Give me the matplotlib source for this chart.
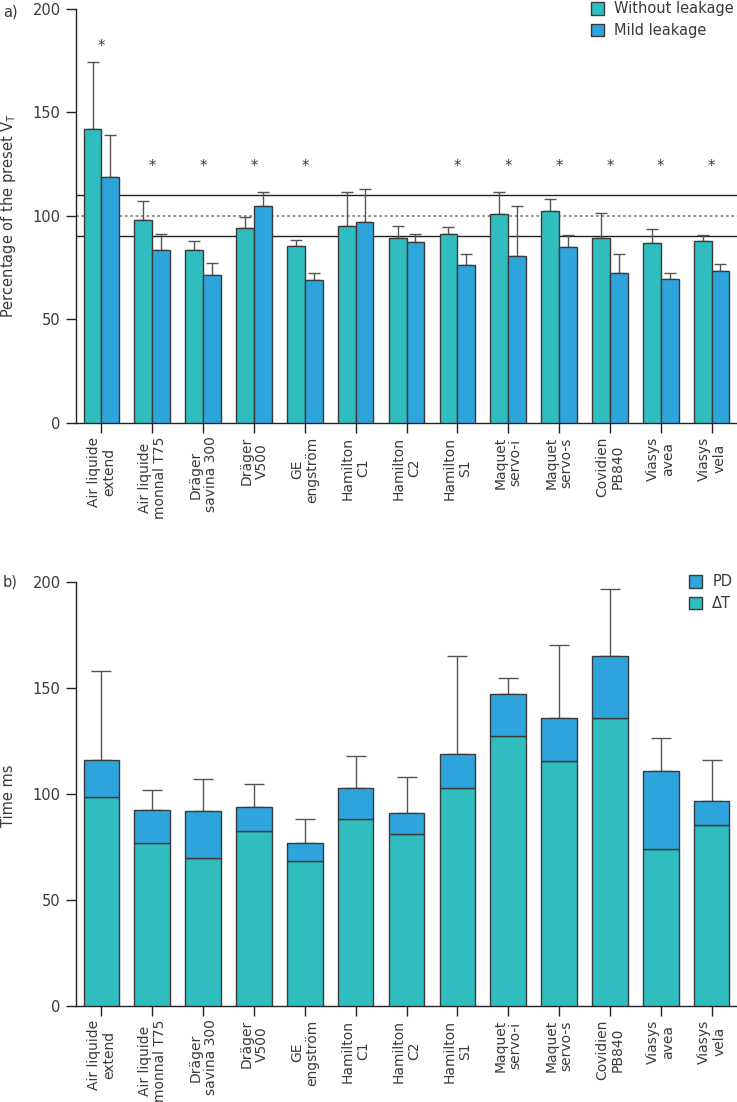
import matplotlib
matplotlib.use("Agg")
import matplotlib.pyplot as plt
import numpy as np

plt.rcParams['font.family'] = ['DejaVu Sans']

categories = ["Air liquide\nextend", "Air liquide\nmonnal T75", "Dräger\nsavina 300",
              "Dräger\nV500", "GE\nengström", "Hamilton\nC1", "Hamilton\nC2",
              "Hamilton\nS1", "Maquet\nservo-i", "Maquet\nservo-s", "Covidien\nPB840",
              "Viasys\navea", "Viasys\nvela"]

# Panel a: percentage of preset VT
without_leak = [142, 98, 83.3, 94, 85.4, 94.9, 89.1, 91, 101, 102.1, 89.2, 86.8, 87.6]
without_leak_err = [32.3, 9, 4.7, 5.5, 2.9, 16.7, 6.1, 3.7, 10.6, 5.8, 12.2, 6.9, 3.1]
mild_leak = [118.8, 83.3, 71.2, 104.7, 69, 96.8, 87.4, 76.3, 80.5, 84.9, 72.2, 69.3, 73.1]
mild_leak_err = [20.2, 8, 5.8, 6.9, 3.5, 16.2, 3.6, 5.3, 24.2, 5.8, 9.4, 3.2, 3.8]
star_groups = [0, 1, 2, 3, 4, 7, 8, 9, 10, 11, 12]
star_heights = [183, 125, 125, 125, 125, 125, 125, 125, 125, 125, 125]
ref_lines = [90, 110]
ref_dotted = 100

# Panel b: time (ms)
delta_t = [98.6, 76.9, 69.5, 82.4, 68.1, 87.9, 80.8, 102.8, 127.1, 115.3, 135.8, 73.8, 85.1]
total_time = [115.9, 92.5, 91.8, 93.6, 76.7, 102.5, 91, 118.9, 146.9, 135.7, 165, 110.6, 96.4]
total_err = [42, 9.1, 15.3, 11.1, 11.4, 15.4, 16.9, 46.2, 7.8, 34.6, 31.6, 15.7, 19.5]
pd_time = [t - d for t, d in zip(total_time, delta_t)]

teal = '#2fbdbf'
blue = '#2ea4dc'
edge = '#3a3a3a'
errc = '#555555'
txtc = '#3a3a3a'
fs = 10.5
fs_x = 10

fig = plt.figure(figsize=(7.37, 11.02), dpi=100)
W, H = 737, 1102

def style_axes(ax):
    ax.spines['top'].set_visible(False)
    ax.spines['right'].set_visible(False)
    for s in ['left', 'bottom']:
        ax.spines[s].set_color('#222222')
        ax.spines[s].set_linewidth(1.0)
    ax.tick_params(axis='both', direction='out', length=7, width=1, color='#222222',
                   labelsize=fs, labelcolor=txtc, pad=4)
    ax.tick_params(axis='x', pad=3)
    ax.set_xlim(-0.5, 12.5)
    ax.set_ylim(0, 200)
    ax.set_yticks([0, 50, 100, 150, 200])
    ax.set_xticks(np.arange(len(categories)))
    ax.set_xticklabels(categories, rotation=90, ha='center', va='top',
                       multialignment='center', fontsize=fs_x, color=txtc,
                       linespacing=1.1)

x = np.arange(len(categories))
bw = 0.35

# ---- Panel a ----
axa = fig.add_axes([76 / W, 1 - 422.7 / H, 661 / W, (422.7 - 8.7) / H])
style_axes(axa)
for yv in ref_lines:
    axa.axhline(yv, color='#222222', lw=1.0, zorder=1)
axa.axhline(ref_dotted, color='#888888', lw=1.3, ls=(0, (1.5, 1.5)), zorder=1)
axa.bar(x - bw / 2, without_leak, bw, color=teal, edgecolor=edge, lw=1, zorder=3,
        label='Without leakage')
axa.bar(x + bw / 2, mild_leak, bw, color=blue, edgecolor=edge, lw=1, zorder=3,
        label='Mild leakage')
axa.errorbar(x - bw / 2, without_leak, yerr=[np.zeros(len(x)), without_leak_err],
             fmt='none', ecolor=errc, elinewidth=1, capsize=4, capthick=1, zorder=2)
axa.errorbar(x + bw / 2, mild_leak, yerr=[np.zeros(len(x)), mild_leak_err],
             fmt='none', ecolor=errc, elinewidth=1, capsize=4, capthick=1, zorder=2)
for g, h in zip(star_groups, star_heights):
    axa.annotate('*', (g, h), xytext=(0, -5), textcoords='offset points',
                 ha='center', va='baseline', fontsize=fs, color=txtc)
fig.text(9 / W, 1 - 215.7 / H, r'Percentage of the preset V$_{\mathregular{T}}$',
         rotation=90, ha='center', va='center', fontsize=fs, color=txtc)
fig.text(3 / W, 1 - 12 / H, 'a)', ha='left', va='center', fontsize=fs, color=txtc)
axa.legend(loc='upper left', bbox_to_anchor=(590.7 / W, 1 - 1.5 / H),
           bbox_transform=fig.transFigure, frameon=False, fontsize=fs,
           handlelength=0.9, handleheight=0.9, handletextpad=0.7,
           labelspacing=0.45, borderpad=0, borderaxespad=0, labelcolor=txtc)

# ---- Panel b ----
axb = fig.add_axes([76 / W, 1 - 1005.7 / H, 661 / W, (1005.7 - 581.7) / H])
style_axes(axb)
b1 = axb.bar(x, delta_t, 2 * bw, color=teal, edgecolor=edge, lw=1, zorder=3, label='ΔT')
b2 = axb.bar(x, pd_time, 2 * bw, bottom=delta_t, color=blue, edgecolor=edge, lw=1,
             zorder=3, label='PD')
axb.errorbar(x, total_time, yerr=[np.zeros(len(x)), total_err], fmt='none',
             ecolor=errc, elinewidth=1, capsize=7, capthick=1, zorder=2)
fig.text(9 / W, 1 - 796 / H, 'Time ms', rotation=90, ha='center', va='center',
         fontsize=fs, color=txtc)
fig.text(3 / W, 1 - 581.7 / H, 'b)', ha='left', va='center', fontsize=fs, color=txtc)
axb.legend([b2, b1], ['PD', 'ΔT'], loc='upper left',
           bbox_to_anchor=(689 / W, 1 - 574.5 / H),
           bbox_transform=fig.transFigure, frameon=False, fontsize=fs,
           handlelength=0.9, handleheight=0.9, handletextpad=0.7,
           labelspacing=0.45, borderpad=0, borderaxespad=0, labelcolor=txtc)

fig.savefig('out.png', dpi=100)
